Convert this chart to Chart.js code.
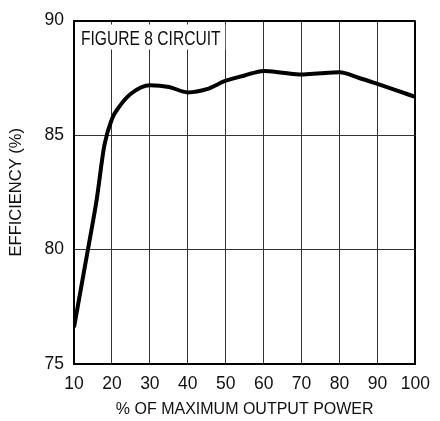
<!DOCTYPE html>
<html>
<head>
<meta charset="utf-8">
<script src="https://cdn.jsdelivr.net/npm/chart.js@4/dist/chart.umd.min.js"></script>
<style>
  html, body { margin: 0; padding: 0; background: #fff; }
  #wrap { width: 440px; height: 421px; }
</style>
</head>
<body>
<div id="wrap"><canvas id="chart"></canvas></div>
<script>
// % of maximum output power vs efficiency
const powerPct = [10, 14, 16, 18, 20, 22, 25, 30, 35, 40, 45, 50, 55, 60, 65, 70, 75, 80, 85, 90, 95, 100]
const efficiency = [76.6, 80.3, 82.2, 84.55, 85.7, 86.25, 86.8, 87.17, 87.1, 86.86, 87.0, 87.37, 87.6, 87.8, 87.72, 87.64, 87.7, 87.74, 87.5, 87.23, 86.95, 86.66]
const xTicks = [10, 20, 30, 40, 50, 60, 70, 80, 90, 100]
const yTicks = [75, 80, 85, 90]
const boxLabel = "FIGURE 8 CIRCUIT"

const fontMain = "'Liberation Sans', Arial, sans-serif"

// white inset with the circuit name, top left of the plot
const insetLabel = {
  id: "insetLabel",
  beforeDatasetsDraw(chart) {
    const { ctx, chartArea } = chart
    const xr = chart.scales.x.getPixelForValue(50)
    ctx.save()
    ctx.fillStyle = "#fff"
    ctx.fillRect(chartArea.left + 1, chartArea.top + 4, xr - chartArea.left - 1.5, 25)
    // condensed look: squeeze the regular face sideways
    ctx.translate(chartArea.left + 7, chartArea.top + 24)
    ctx.scale(0.8, 1)
    ctx.fillStyle = "#111"
    ctx.font = "19.5px " + fontMain
    ctx.textBaseline = "alphabetic"
    ctx.fillText(boxLabel, 0, 0)
    ctx.restore()
  },
}

new Chart(document.getElementById("chart"), {
  type: "line",
  data: {
    datasets: [
      {
        data: powerPct.map((p, i) => ({ x: p, y: efficiency[i] })),
        borderColor: "#000",
        borderWidth: 4,
        pointRadius: 0,
        cubicInterpolationMode: "monotone",
        fill: false,
      },
    ],
  },
  options: {
    responsive: true,
    maintainAspectRatio: false,
    animation: false,
    layout: { padding: { top: 13, right: 14, left: 0, bottom: 0 } },
    plugins: { legend: { display: false }, tooltip: { enabled: false } },
    scales: {
      x: {
        type: "linear",
        min: 10,
        max: 100,
        afterBuildTicks: (s) => { s.ticks = xTicks.map((v) => ({ value: v })) },
        afterFit: (s) => { s.height = 57 },
        grid: {
          drawTicks: false,
          color: (c) => (c.tick && c.tick.value === 100 ? "#000" : "#333"),
          lineWidth: (c) => (c.tick && c.tick.value === 100 ? 2 : 1),
        },
        border: { color: "#000", width: 2 },
        ticks: { color: "#111", padding: 10, font: { size: 17.5, family: fontMain } },
        title: {
          display: true,
          text: "% OF MAXIMUM OUTPUT POWER",
          color: "#111",
          font: { size: 16, family: fontMain },
          padding: { top: 0, bottom: 2 },
        },
      },
      y: {
        min: 75,
        max: 90,
        afterBuildTicks: (s) => { s.ticks = yTicks.map((v) => ({ value: v })) },
        afterFit: (s) => { s.width = 74 },
        grid: {
          drawTicks: false,
          color: (c) => (c.tick && c.tick.value === 90 ? "#000" : "#333"),
          lineWidth: (c) => (c.tick && c.tick.value === 90 ? 2 : 1),
        },
        border: { color: "#000", width: 2 },
        ticks: { color: "#111", padding: 10, font: { size: 17.5, family: fontMain } },
        title: {
          display: true,
          text: "EFFICIENCY (%)",
          color: "#111",
          font: { size: 16.5, family: fontMain },
          padding: { top: 7, bottom: 0 },
        },
      },
    },
  },
  plugins: [insetLabel],
})
</script>
</body>
</html>
